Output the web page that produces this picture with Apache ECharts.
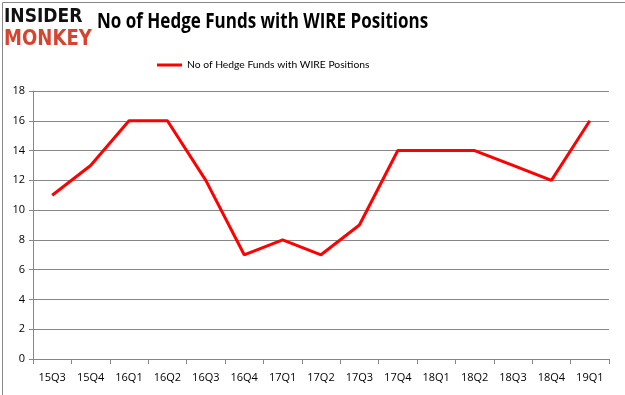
<!DOCTYPE html>
<html><head><meta charset="utf-8">
<script src="https://cdn.jsdelivr.net/npm/echarts@6/dist/echarts.min.js"></script>
<style>html,body{margin:0;padding:0;background:#fff}#c{width:625px;height:395px}</style>
</head><body><div id="c"></div>
<script>
const categories = ['15Q3','15Q4','16Q1','16Q2','16Q3','16Q4','17Q1','17Q2','17Q3','17Q4','18Q1','18Q2','18Q3','18Q4','19Q1'];
const values = [11,13,16,16,12,7,8,7,9,14,14,14,13,12,16];
const seriesName = 'No of Hedge Funds with WIRE Positions';
const titleText = 'No of Hedge Funds with WIRE Positions';

const chart = echarts.init(document.getElementById('c'), null, {renderer:'canvas'});
chart.setOption({
  animation:false,
  backgroundColor:'#fff',
  legend:{top:55,left:152,itemWidth:25,itemHeight:3,icon:'rect',itemGap:4,
    textStyle:{fontFamily:'Lato',fontSize:10.3,color:'#000'},data:[seriesName]},
  graphic:[
    {type:'rect',left:0,top:0,shape:{width:624,height:394},style:{fill:'none',stroke:'#888',lineWidth:1},silent:true},
    {type:'text',x:97,y:12,scaleX:0.81,style:{text:titleText,font:'bold 21px "Open Sans"',fill:'#000'}},
    {type:'text',x:4,y:7,scaleX:0.9,scaleY:1.05,style:{text:'INSIDER',font:'900 19px "DejaVu Sans"',fill:'#111'}},
    {type:'text',x:4,y:28,scaleX:0.95,scaleY:1.15,style:{text:'MONKEY',font:'900 19px "DejaVu Sans"',fill:'#d84330'}}
  ],
  grid:{left:33,right:16,top:91,bottom:36,containLabel:false},
  xAxis:{type:'category',data:categories,boundaryGap:true,
    axisLine:{lineStyle:{color:'#868686'}},
    axisTick:{show:true,length:5,lineStyle:{color:'#868686'}},
    axisLabel:{fontFamily:'Open Sans',fontSize:11,color:'#000',margin:13}},
  yAxis:{type:'value',min:0,max:18,interval:2,
    axisLine:{show:true,lineStyle:{color:'#868686'}},
    axisTick:{show:true,length:4,lineStyle:{color:'#868686'}},
    splitLine:{lineStyle:{color:'#868686'}},
    axisLabel:{fontFamily:'Open Sans',fontSize:11,color:'#000',margin:8}},
  series:[{name:seriesName,type:'line',data:values,symbol:'none',
    lineStyle:{color:'#ff0000',width:3},itemStyle:{color:'#ff0000'}}]
});
</script></body></html>
